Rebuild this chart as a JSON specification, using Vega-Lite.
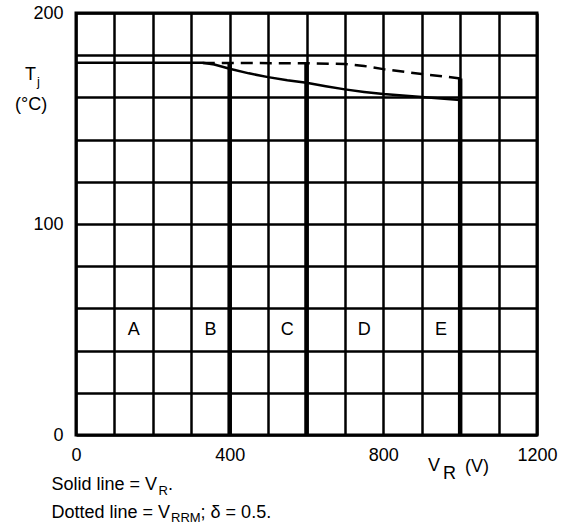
{
  "$schema": "https://vega.github.io/schema/vega-lite/v6.json",
  "width": 461,
  "height": 422,
  "autosize": {"type": "none"},
  "padding": {"left": 76, "top": 13, "right": 39, "bottom": 92},
  "background": "white",
  "config": {
    "view": {"stroke": "black", "strokeWidth": 3},
    "font": "Liberation Sans"
  },
  "datasets": {
    "solid": [
      {"x": 0, "y": 176.4}, {"x": 330, "y": 176.4}, {"x": 360, "y": 175.6},
      {"x": 400, "y": 173.6}, {"x": 450, "y": 171.4}, {"x": 500, "y": 169.6},
      {"x": 550, "y": 168.1}, {"x": 600, "y": 166.9}, {"x": 650, "y": 165.3},
      {"x": 700, "y": 163.8}, {"x": 750, "y": 162.6}, {"x": 800, "y": 161.6},
      {"x": 850, "y": 160.9}, {"x": 900, "y": 160.2}, {"x": 950, "y": 159.5},
      {"x": 1000, "y": 158.8}
    ],
    "dashed": [
      {"x": 330, "y": 176.3}, {"x": 600, "y": 176.2}, {"x": 700, "y": 175.8},
      {"x": 750, "y": 174.9}, {"x": 800, "y": 173.4}, {"x": 900, "y": 171.1},
      {"x": 1000, "y": 169.0}
    ],
    "bounds": [
      {"x": 400, "y": 0, "y2": 176.3},
      {"x": 600, "y": 0, "y2": 176.2},
      {"x": 1000, "y": 0, "y2": 169.0}
    ],
    "regions": [
      {"x": 150, "y": 50, "t": "A"}, {"x": 350, "y": 50, "t": "B"},
      {"x": 550, "y": 50, "t": "C"}, {"x": 750, "y": 50, "t": "D"},
      {"x": 950, "y": 50, "t": "E"}
    ],
    "big": [
      {"x": -132.8, "y": 168.2, "t": "T"},
      {"x": -158.8, "y": 154.0, "t": "(°C)"},
      {"x": 916.2, "y": -17.06, "t": "V"},
      {"x": 955.3, "y": -20.85, "t": "R"},
      {"x": 1012.6, "y": -17.5, "t": "(V)"},
      {"x": -63.8, "y": -26.3, "t": "Solid line = V"},
      {"x": 239.5, "y": -26.3, "t": "."},
      {"x": -63.8, "y": -39.3, "t": "Dotted line = V"},
      {"x": 324.3, "y": -39.3, "t": "; δ = 0.5."}
    ],
    "small": [
      {"x": -101.5, "y": 165.4, "t": "j"},
      {"x": 214.7, "y": -28.4, "t": "R"},
      {"x": 247.3, "y": -41.2, "t": "RRM"}
    ]
  },
  "encoding": {
    "x": {
      "field": "x",
      "type": "quantitative",
      "scale": {"domain": [0, 1200], "nice": false, "zero": false},
      "axis": {
        "values": [0, 100, 200, 300, 400, 500, 600, 700, 800, 900, 1000, 1100, 1200],
        "format": "d",
        "title": null,
        "grid": true,
        "gridColor": "black",
        "gridWidth": 2.5,
        "gridOpacity": 1,
        "domain": false,
        "ticks": false,
        "labelFont": "Liberation Sans",
        "labelFontSize": 18,
        "labelColor": "black",
        "labelPadding": 11,
        "labelFlush": false,
        "labelOverlap": false,
        "labelExpr": "datum.value % 400 === 0 ? datum.label : ''"
      }
    },
    "y": {
      "field": "y",
      "type": "quantitative",
      "scale": {"domain": [0, 200], "nice": false, "zero": false},
      "axis": {
        "values": [0, 20, 40, 60, 80, 100, 120, 140, 160, 180, 200],
        "format": "d",
        "title": null,
        "grid": true,
        "gridColor": "black",
        "gridWidth": 2.5,
        "gridOpacity": 1,
        "domain": false,
        "ticks": false,
        "labelFont": "Liberation Sans",
        "labelFontSize": 18,
        "labelColor": "black",
        "labelPadding": 13,
        "labelBaseline": "middle",
        "labelFlush": false,
        "labelOverlap": false,
        "labelExpr": "datum.value % 100 === 0 ? datum.label : ''"
      }
    }
  },
  "layer": [
    {
      "data": {"name": "bounds"},
      "mark": {"type": "rule", "color": "black", "strokeWidth": 4.5},
      "encoding": {"y2": {"field": "y2"}}
    },
    {
      "data": {"name": "solid"},
      "mark": {"type": "line", "color": "black", "strokeWidth": 2.5},
      "encoding": {}
    },
    {
      "data": {"name": "dashed"},
      "mark": {"type": "line", "color": "black", "strokeWidth": 2.5, "strokeDash": [12, 7]},
      "encoding": {}
    },
    {
      "data": {"name": "regions"},
      "mark": {"type": "text", "font": "Liberation Sans", "fontSize": 18, "color": "black", "align": "center", "baseline": "middle"},
      "encoding": {"text": {"field": "t"}}
    },
    {
      "data": {"name": "big"},
      "mark": {"type": "text", "font": "Liberation Sans", "fontSize": 18, "color": "black", "align": "left", "baseline": "alphabetic"},
      "encoding": {"text": {"field": "t"}}
    },
    {
      "data": {"name": "small"},
      "mark": {"type": "text", "font": "Liberation Sans", "fontSize": 13, "color": "black", "align": "left", "baseline": "alphabetic"},
      "encoding": {"text": {"field": "t"}}
    }
  ]
}
